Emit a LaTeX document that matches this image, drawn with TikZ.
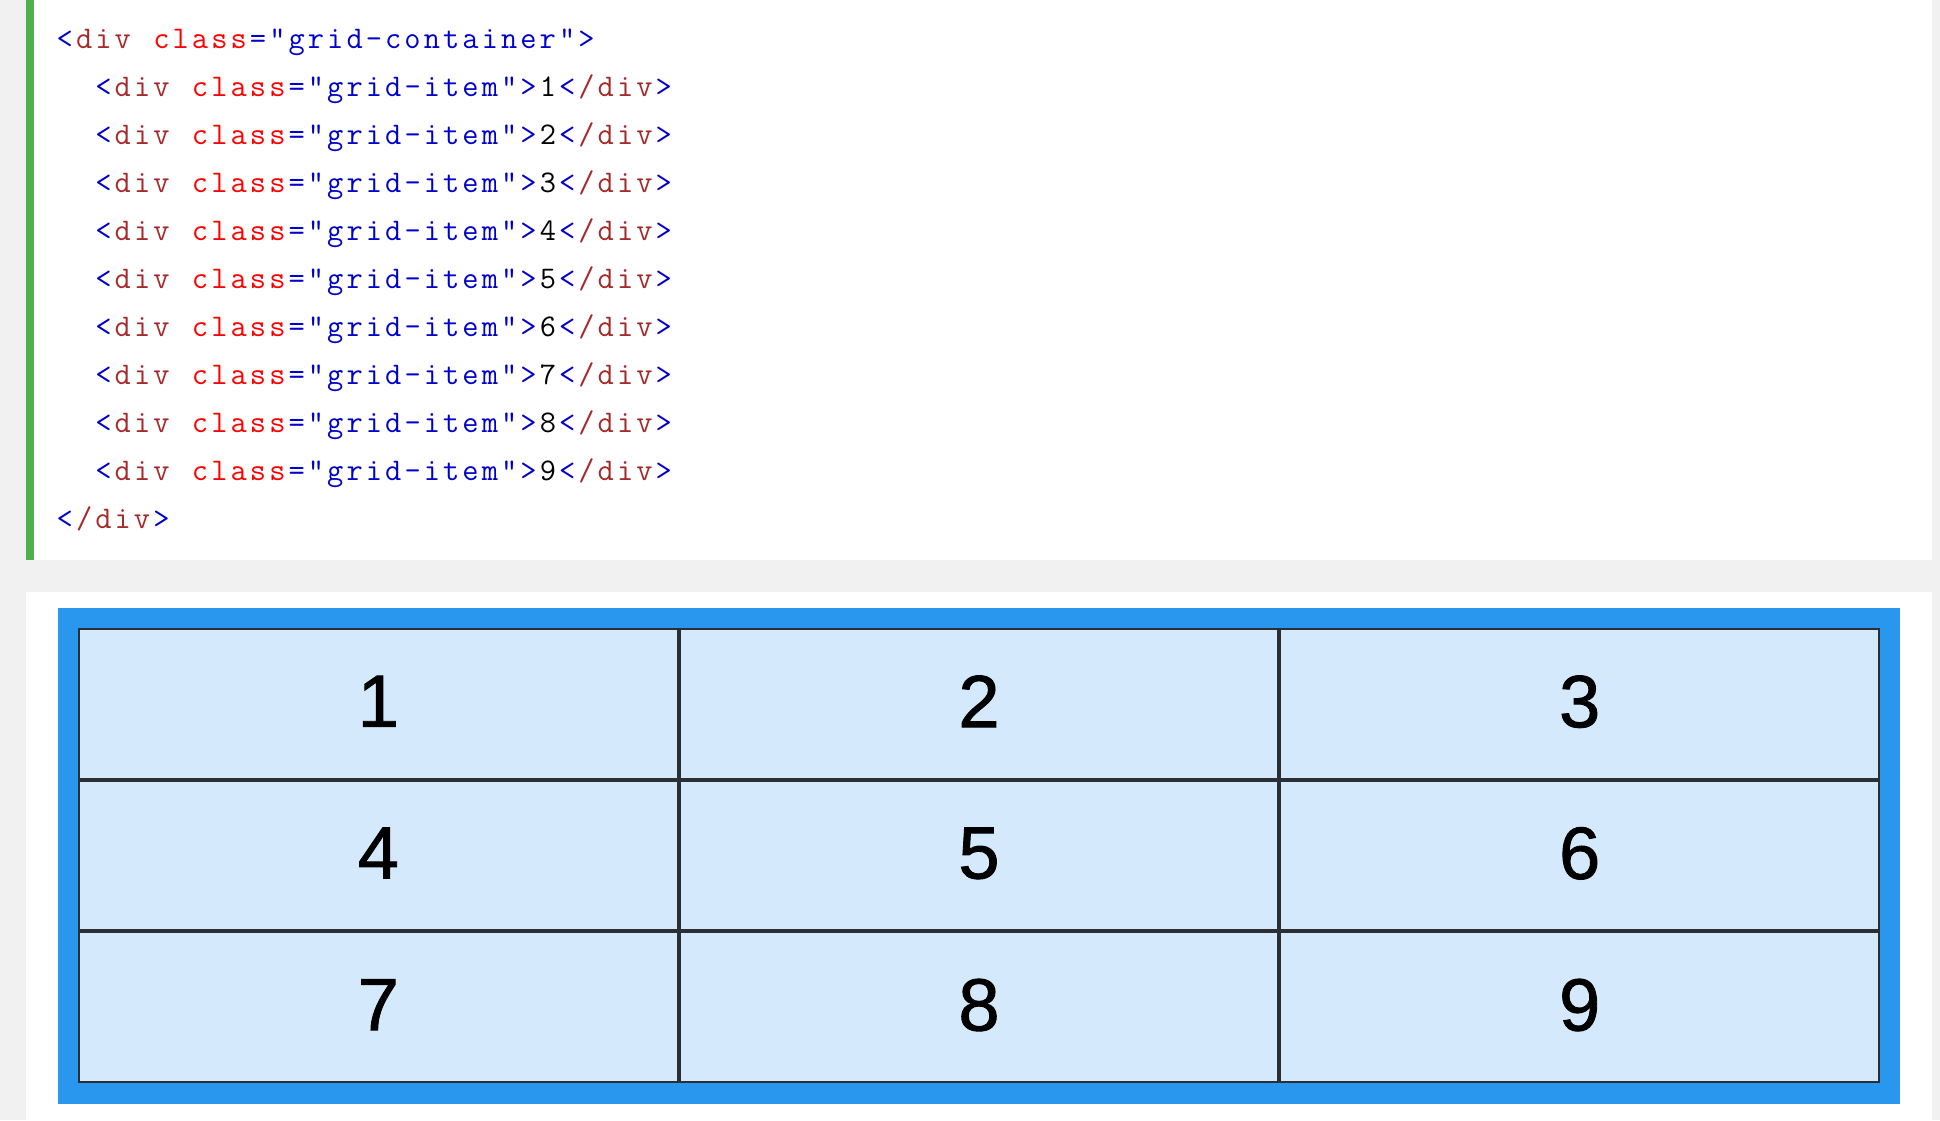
\documentclass[tikz,border=0pt]{standalone}
\usepackage{fontspec}
\setmainfont{Liberation Sans}
\newfontfamily\codefont{Latin Modern Mono}
\newfontfamily\digitfont[FakeBold=1.2]{Liberation Sans}
\definecolor{pagegrey}{RGB}{241,241,241}
\definecolor{barGreen}{RGB}{76,175,80}
\definecolor{frameBlue}{RGB}{41,151,237}
\definecolor{cellFill}{RGB}{213,233,253}
\definecolor{cellLine}{RGB}{43,47,51}
\definecolor{cb}{RGB}{0,0,205}
\definecolor{cn}{RGB}{165,42,42}
\definecolor{ca}{RGB}{255,0,0}
\newcommand{\cw}{19.32pt}
\ExplSyntaxOn
\NewDocumentCommand\cseg{mm}{\textcolor{#1}{\str_map_inline:nn{#2}{\makebox[\cw][c]{##1}}}}
\ExplSyntaxOff
\newcommand{\tagopen}{\cseg{cb}{<}\cseg{cn}{div}\hspace*{\cw}\cseg{ca}{class}}
\newcommand{\itemline}[1]{\hspace*{2\dimexpr\cw\relax}\tagopen\cseg{cb}{="grid-item">}\makebox[\cw][c]{#1}\cseg{cb}{<}\cseg{cn}{/div}\cseg{cb}{>}}
\tikzset{
  codeline/.style={anchor=base west, inner sep=0pt, font=\fontsize{31.5}{48}\selectfont\codefont},
  gridcell/.style={draw=cellLine, line width=2pt, fill=cellFill, inner sep=0pt, outer sep=0pt,
    minimum width=598.67pt, minimum height=149.67pt, text depth=5pt,
    font=\fontsize{74}{80}\selectfont\digitfont},
}
\begin{document}
\begin{tikzpicture}[x=1pt,y=-1pt]
\useasboundingbox (0,0) rectangle (1940,1120);
\fill[pagegrey] (0,0) rectangle (1940,1120);
% code panel
\fill[white] (26,0) rectangle (1932,560);
\fill[barGreen] (26,0) rectangle (34,560);
\node[codeline] (c0) at (55,48) {\tagopen\cseg{cb}{="grid-container">}};
\foreach \i in {1,...,9} {
  \node[codeline] (c\i) at (55,48+48*\i) {\itemline{\i}};
}
\node[codeline] (c10) at (55,528) {\cseg{cb}{<}\cseg{cn}{/div}\cseg{cb}{>}};
% result panel
\fill[white] (26,592) rectangle (1932,1120);
\fill[frameBlue] (58,608) rectangle (1900,1104);
\foreach \r in {0,1,2} {
  \foreach \c in {0,1,2} {
    \pgfmathtruncatemacro{\n}{3*\r+\c+1}
    \node[gridcell] (g\n) at (78+300.333+600.667*\c, 628+75.833+151.667*\r) {\n};
  }
}
\end{tikzpicture}
\end{document}
